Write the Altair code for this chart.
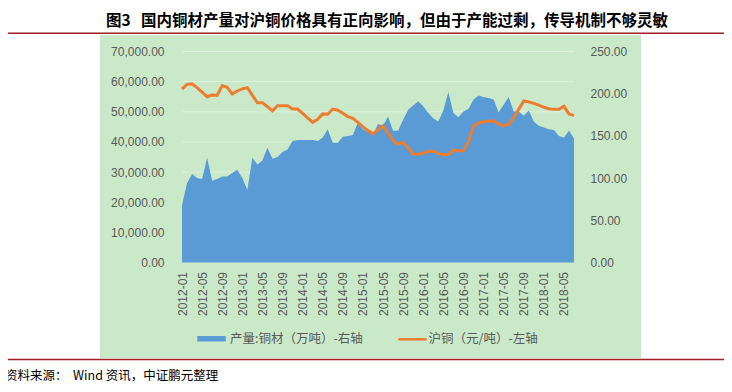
import altair as alt
import pandas as pd

# ---------------- data ----------------
months = list(pd.date_range("2012-01-01", periods=79, freq="MS").strftime("%Y-%m"))

# 沪铜（元/吨）- left axis
price = [57500, 59100, 59300, 58000, 56500, 55000, 55600, 55400, 58700, 58100,
         55900, 56900, 57600, 58000, 55500, 53000, 53000, 51700, 50300, 52000,
         52000, 52000, 50900, 50900, 49500, 48000, 46500, 47500, 49300, 49200,
         50900, 50500, 49500, 48400, 47800, 46500, 45000, 43800, 42700, 44000,
         45400, 43000, 40500, 39200, 39900, 38000, 36000, 35900, 36300, 36800,
         37000, 36200, 35700, 35800, 37300, 37000, 37100, 40000, 45200, 46300,
         46700, 46900, 47000, 45900, 45400, 45800, 48000, 50800, 53600, 53300,
         52800, 52200, 51500, 51000, 50800, 50800, 51800, 49300, 48700]

# 产量:铜材（万吨）- right axis
output = [68, 94, 105, 100, 99, 124, 97, 99, 102, 102,
          106, 110, 100, 86, 124, 116, 121, 136, 123, 125,
          131, 134, 144, 145, 145, 145, 145, 144, 148, 158,
          142, 142, 149, 150, 151, 166, 158, 155, 151, 164,
          162, 173, 156, 156, 169, 181, 186, 191, 185, 177,
          171, 167, 180, 202, 177, 172, 179, 182, 193, 198,
          196, 195, 193, 178, 187, 196, 179, 179, 174, 180,
          167, 162, 160, 158, 157, 150, 148, 156, 147]

left_ticks = [0, 10000, 20000, 30000, 40000, 50000, 60000, 70000]
right_ticks = [0, 50, 100, 150, 200, 250]
x_ticks = months[::4]

title_text = "图3\u00a0\u00a0\u00a0国内铜材产量对沪铜价格具有正向影响，但由于产能过剩，传导机制不够灵敏"
source_text = "资料来源：\u00a0\u00a0Wind 资讯，中证鹏元整理"
legend_labels = ["产量:铜材（万吨）-右轴", "沪铜（元/吨）-左轴"]
colors = ["#5B9BD5", "#ED7D31"]

df = pd.DataFrame({"month": months, "price": price, "output": output})
grid_df = pd.DataFrame({"v": left_ticks[1:]})
one = pd.DataFrame({"a": [0]})

LABEL_FONT = "Liberation Sans"
LABEL_COLOR = "#595959"
CJK = "Noto Sans CJK SC"

xenc = alt.X("month:O", sort=None, scale=alt.Scale(type="point", padding=0),
             axis=alt.Axis(values=x_ticks, labelAngle=-90, labelPadding=9, title=None,
                           domain=False, ticks=False, labelColor=LABEL_COLOR,
                           labelFont=LABEL_FONT, labelFontSize=12, zindex=1))

# background panel
panel = alt.Chart(one).mark_rect(color="#C9E9C9").encode(
    x=alt.value(-82), x2=alt.value(459), y=alt.value(-16.5), y2=alt.value(306.5))

# red separator lines
top_line = alt.Chart(one).mark_rule(color="#A01E24", strokeWidth=1.5).encode(
    x=alt.value(-182), x2=alt.value(550), y=alt.value(-18.2))
bot_line = alt.Chart(one).mark_rule(color="#A01E24", strokeWidth=1.5).encode(
    x=alt.value(-182), x2=alt.value(550), y=alt.value(308))

title = alt.Chart(one).mark_text(font=CJK, fontSize=15.5, fontWeight="bold", color="#000000",
                                 align="center", baseline="middle").encode(
    x=alt.value(205), y=alt.value(-30.5), text=alt.value(title_text))

source = alt.Chart(one).mark_text(font=CJK, fontSize=12.5, color="#000000",
                                  align="left", baseline="middle").encode(
    x=alt.value(-177), y=alt.value(324), text=alt.value(source_text))

# gridlines (left scale)
grid = alt.Chart(grid_df).mark_rule(color="#DDF1DD", strokeWidth=1).encode(
    y=alt.Y("v:Q", scale=alt.Scale(domain=[0, 70000]), axis=None))

area = alt.Chart(df).mark_area(color=colors[0], opacity=1).encode(
    x=xenc,
    y=alt.Y("output:Q", scale=alt.Scale(domain=[0, 250]),
            axis=alt.Axis(orient="right", values=right_ticks, format=".2f", title=None,
                          domain=False, ticks=False, grid=False, labelPadding=16,
                          labelColor=LABEL_COLOR, labelFont=LABEL_FONT, labelFontSize=12,
                          zindex=1)))

line = alt.Chart(df).mark_line(color=colors[1], strokeWidth=3).encode(
    x=xenc,
    y=alt.Y("price:Q", scale=alt.Scale(domain=[0, 70000]),
            axis=alt.Axis(orient="left", values=left_ticks, format=",.2f", title=None,
                          domain=False, ticks=False, grid=False, labelPadding=18,
                          labelColor=LABEL_COLOR, labelFont=LABEL_FONT, labelFontSize=12,
                          zindex=1)))

# legend
leg_sq = alt.Chart(one).mark_rect(color=colors[0]).encode(
    x=alt.value(15.3), x2=alt.value(43.7), y=alt.value(284.5), y2=alt.value(290))
leg_ln = alt.Chart(one).mark_rule(color=colors[1], strokeWidth=2.5).encode(
    x=alt.value(216.3), x2=alt.value(244.7), y=alt.value(287.8))
leg_t1 = alt.Chart(one).mark_text(font=CJK, fontSize=12.5, color=LABEL_COLOR, align="left",
                                  baseline="middle").encode(
    x=alt.value(48), y=alt.value(287.8), text=alt.value(legend_labels[0]))
leg_t2 = alt.Chart(one).mark_text(font=CJK, fontSize=12.5, color=LABEL_COLOR, align="left",
                                  baseline="middle").encode(
    x=alt.value(246.5), y=alt.value(287.8), text=alt.value(legend_labels[1]))

chart = alt.layer(
    panel, top_line, bot_line, title, source, grid, area, line,
    leg_sq, leg_ln, leg_t1, leg_t2
).resolve_scale(y="independent").properties(
    width=392, height=211,
    autosize=alt.AutoSizeParams(type="none"),
    padding={"left": 174, "top": 43.5, "right": 150, "bottom": 121.5},
    background="white",
).configure_view(stroke=None)

chart.save("out.html", embed_options={"renderer": "svg", "actions": False})
